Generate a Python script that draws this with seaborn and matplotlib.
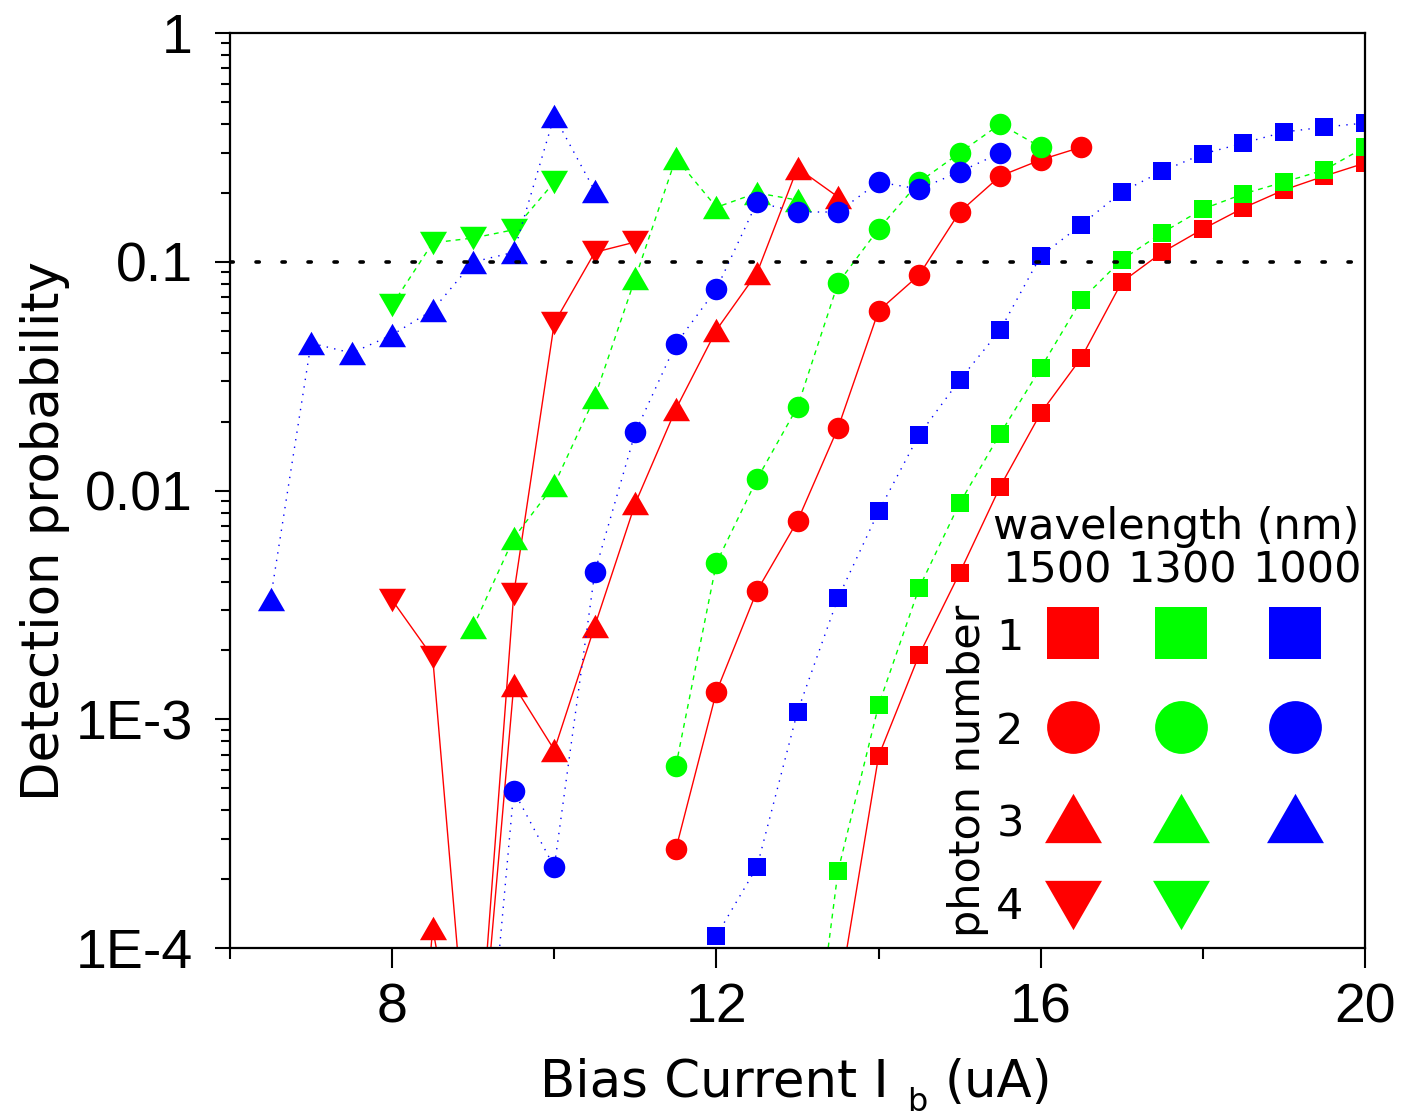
import matplotlib
matplotlib.use("Agg")
import matplotlib.pyplot as plt
from matplotlib.ticker import FixedLocator, LogLocator, FuncFormatter, NullFormatter
import pandas as pd
import seaborn as sns

# ---- measured detection probabilities (bias current in uA) ----
# 1500 nm
i_1500_n1 = [13.5, 14.0, 14.5, 15.0, 15.5, 16.0, 16.5, 17.0, 17.5, 18.0, 18.5, 19.0, 19.5, 20.0]
p_1500_n1 = [5.8e-5, 6.9e-4, 1.91e-3, 4.36e-3, 1.04e-2, 2.18e-2, 3.80e-2, 8.15e-2, 0.110, 0.139,
             0.172, 0.206, 0.237, 0.270]
i_1500_n2 = [11.5, 12.0, 12.5, 13.0, 13.5, 14.0, 14.5, 15.0, 15.5, 16.0, 16.5]
p_1500_n2 = [2.71e-4, 1.32e-3, 3.64e-3, 7.36e-3, 1.88e-2, 6.1e-2, 8.75e-2, 0.165, 0.237, 0.279, 0.317]
i_1500_n3 = [8.0, 8.5, 9.0, 9.5, 10.0, 10.5, 11.0, 11.5, 12.0, 12.5, 13.0, 13.5]
p_1500_n3 = [1e-6, 1.22e-4, 1.3e-5, 1.41e-3, 7.34e-4, 2.56e-3, 8.8e-3, 2.27e-2, 5.03e-2, 8.93e-2,
             0.257, 0.192]
i_1500_n4 = [8.0, 8.5, 9.0, 9.5, 10.0, 10.5, 11.0]
p_1500_n4 = [3.32e-3, 1.87e-3, 1.5e-5, 3.53e-3, 5.4e-2, 0.110, 0.122]

# 1300 nm
i_1300_n1 = [13.0, 13.5, 14.0, 14.5, 15.0, 15.5, 16.0, 16.5, 17.0, 17.5, 18.0, 18.5, 19.0, 19.5, 20.0]
p_1300_n1 = [9e-6, 2.17e-4, 1.15e-3, 3.75e-3, 8.8e-3, 1.77e-2, 3.43e-2, 6.8e-2, 0.102, 0.134,
             0.170, 0.198, 0.223, 0.252, 0.317]
i_1300_n2 = [11.5, 12.0, 12.5, 13.0, 13.5, 14.0, 14.5, 15.0, 15.5, 16.0]
p_1300_n2 = [6.25e-4, 4.82e-3, 1.12e-2, 2.32e-2, 8.07e-2, 0.139, 0.223, 0.299, 0.400, 0.317]
i_1300_n3 = [9.0, 9.5, 10.0, 10.5, 11.0, 11.5, 12.0, 12.5, 13.0]
p_1300_n3 = [2.53e-3, 6.2e-3, 1.06e-2, 2.56e-2, 8.49e-2, 0.284, 0.173, 0.200, 0.186]
i_1300_n4 = [8.0, 8.5, 9.0, 9.5, 10.0]
p_1300_n4 = [6.47e-2, 0.121, 0.127, 0.138, 0.223]

# 1000 nm
i_1000_n1 = [12.0, 12.5, 13.0, 13.5, 14.0, 14.5, 15.0, 15.5, 16.0, 16.5, 17.0, 17.5, 18.0, 18.5,
             19.0, 19.5, 20.0]
p_1000_n1 = [1.13e-4, 2.26e-4, 1.08e-3, 3.39e-3, 8.1e-3, 1.75e-2, 3.04e-2, 5.03e-2, 0.106, 0.145,
             0.202, 0.249, 0.296, 0.330, 0.369, 0.388, 0.404]
i_1000_n2 = [9.0, 9.5, 10.0, 10.5, 11.0, 11.5, 12.0, 12.5, 13.0, 13.5, 14.0, 14.5, 15.0, 15.5]
p_1000_n2 = [5.3e-6, 4.86e-4, 2.26e-4, 4.4e-3, 1.8e-2, 4.37e-2, 7.6e-2, 0.182, 0.165, 0.165,
             0.223, 0.208, 0.247, 0.299]
i_1000_n3 = [6.5, 7.0, 7.5, 8.0, 8.5, 9.0, 9.5, 10.0, 10.5]
p_1000_n3 = [3.36e-3, 4.41e-2, 3.99e-2, 4.79e-2, 6.15e-2, 9.98e-2, 0.110, 0.434, 0.204]

threshold = 0.1

wavelengths = ["1500", "1300", "1000"]
photon_numbers = ["1", "2", "3", "4"]
y_ticks = [1e-4, 1e-3, 1e-2, 1e-1, 1.0]
y_tick_labels = ["1E-4", "1E-3", "0.01", "0.1", "1"]
x_ticks = [8, 12, 16, 20]

series = {
    ("1500", "1"): (i_1500_n1, p_1500_n1),
    ("1500", "2"): (i_1500_n2, p_1500_n2),
    ("1500", "3"): (i_1500_n3, p_1500_n3),
    ("1500", "4"): (i_1500_n4, p_1500_n4),
    ("1300", "1"): (i_1300_n1, p_1300_n1),
    ("1300", "2"): (i_1300_n2, p_1300_n2),
    ("1300", "3"): (i_1300_n3, p_1300_n3),
    ("1300", "4"): (i_1300_n4, p_1300_n4),
    ("1000", "1"): (i_1000_n1, p_1000_n1),
    ("1000", "2"): (i_1000_n2, p_1000_n2),
    ("1000", "3"): (i_1000_n3, p_1000_n3),
}

rows = []
for (wl, n), (cur, prob) in series.items():
    for c, p in zip(cur, prob):
        rows.append({"wavelength": wl, "photons": n, "current": c, "prob": p})
df = pd.DataFrame(rows)

# ---- styles ----
colors = {"1500": "#ff0000", "1300": "#00ff00", "1000": "#0000ff"}
lines = {"1500": "-", "1300": (0, (3.5, 3.5)), "1000": (0, (1.0, 4.5))}
TRI_UP = [(-1, -0.866), (1, -0.866), (0, 0.866), (-1, -0.866)]
TRI_DN = [(-1, 0.866), (1, 0.866), (0, -0.866), (-1, 0.866)]
markers = {"1": "s", "2": "o", "3": TRI_UP, "4": TRI_DN}
msizes = {"1": 13.5, "2": 15.5, "3": 19.5, "4": 19.5}
legend_msizes = {"1": 38, "2": 38, "3": 41, "4": 41}

sns.set_style("ticks")
plt.rcParams["font.family"] = ["DejaVu Sans"]
plt.rcParams["mathtext.fontset"] = "dejavusans"
for key in ["text.color", "axes.labelcolor", "xtick.color", "ytick.color", "axes.edgecolor"]:
    plt.rcParams[key] = "black"

fig = plt.figure(figsize=(14.04, 11.2), dpi=100)
ax = fig.add_axes([0.16382, 0.15357, 0.80840, 0.81696])
ax.set_yscale("log")

for wl in wavelengths:
    for n in photon_numbers:
        sub = df[(df["wavelength"] == wl) & (df["photons"] == n)]
        if sub.empty:
            continue
        sns.lineplot(data=sub, x="current", y="prob", ax=ax, estimator=None, sort=False,
                     color=colors[wl], linestyle=lines[wl], linewidth=1.0,
                     marker=markers[n], markersize=msizes[n], markeredgewidth=0,
                     markerfacecolor=colors[wl])

ax.axhline(threshold, color="black", linewidth=2.6, linestyle=(0, (0.9, 6.3)),
           dash_capstyle="round", zorder=5)

ax.set_xlim(6, 20)
ax.set_ylim(1e-4, 1)

# ticks
ax.xaxis.set_major_locator(FixedLocator(x_ticks))
ax.xaxis.set_minor_locator(FixedLocator([6, 10, 14, 18]))
ax.yaxis.set_major_locator(FixedLocator(y_ticks))
ax.yaxis.set_minor_locator(LogLocator(base=10, subs=range(2, 10), numticks=20))
ax.yaxis.set_minor_formatter(NullFormatter())
ax.yaxis.set_major_formatter(FuncFormatter(lambda v, pos: dict(zip(y_ticks, y_tick_labels)).get(v, "")))
ax.xaxis.set_major_formatter(FuncFormatter(lambda v, pos: f"{v:g}"))
ax.tick_params(axis="x", which="major", direction="out", length=14.5, width=1.5, pad=10,
               labelsize=40, top=False, colors="black")
ax.tick_params(axis="x", which="minor", direction="out", length=8, width=1.5, top=False,
               colors="black")
ax.tick_params(axis="y", which="major", direction="out", length=11, width=1.5, pad=16,
               labelsize=40, right=False, colors="black")
ax.tick_params(axis="y", which="minor", direction="out", length=6.5, width=1.5, right=False,
               colors="black")
for lab in ax.get_xticklabels() + ax.get_yticklabels():
    lab.set_fontfamily("Liberation Sans")

for s in ax.spines.values():
    s.set_linewidth(1.6)
    s.set_color("black")

# x label: "Bias Current I" with a lowered subscript "b" and the unit after it
ax.set_xlabel("Bias Current I", fontsize=37, color="black")
ax.xaxis.label.set_ha("left")
ax.xaxis.label.set_va("baseline")
ax.xaxis.set_label_coords(0.2731, -0.1628)
sub_b = ax.annotate("b", xy=(1, 0), xycoords=ax.xaxis.label, xytext=(13, -7.4),
                    textcoords="offset points", ha="left", va="bottom", fontsize=23)
ax.annotate("(uA)", xy=(1, 0), xycoords=ax.xaxis.label, xytext=(40, 0),
            textcoords="offset points", ha="left", va="bottom", fontsize=37)

ax.set_ylabel("Detection probability", fontsize=37, color="black")
ax.yaxis.set_label_coords(-0.141, 0.456)

# ---- legend grid: wavelength columns x photon-number rows ----
col_x = {"1500": 0.7427, "1300": 0.8379, "1000": 0.9383}
head_x = {"1500": 0.7286, "1300": 0.8388, "1000": 0.9489}
row_y = {"1": 0.3443, "2": 0.2415, "3": 0.1421, "4": 0.0470}
num_y = {"1": 0.3390, "2": 0.2360, "3": 0.1355, "4": 0.0450}
leg_fs = 31
ax.text(0.8335, 0.4601, "wavelength (nm)", transform=ax.transAxes, ha="center", va="center",
        fontsize=leg_fs)
for wl in wavelengths:
    ax.text(head_x[wl], 0.4131, wl, transform=ax.transAxes, ha="center", va="center",
            fontsize=leg_fs)
ax.text(0.650, 0.1934, "photon number", transform=ax.transAxes, ha="center", va="center",
        rotation=90, fontsize=leg_fs)
for n in photon_numbers:
    ax.text(0.6872, num_y[n], n, transform=ax.transAxes, ha="center", va="center",
            fontsize=leg_fs)
    for wl in wavelengths:
        if (wl, n) not in series:
            continue
        ax.plot([col_x[wl]], [row_y[n]], transform=ax.transAxes, linestyle="none",
                marker=markers[n], markersize=legend_msizes[n], markeredgewidth=0,
                color=colors[wl], clip_on=False, zorder=6)

fig.savefig("out.png", dpi=100, facecolor="white")
